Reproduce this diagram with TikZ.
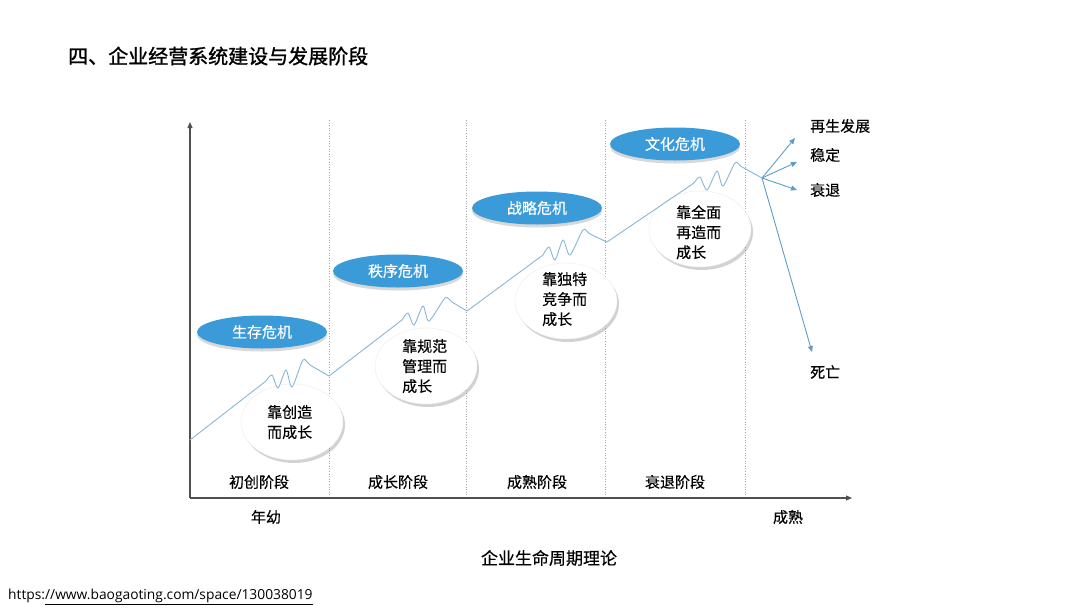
\documentclass[tikz,border=0pt]{standalone}
\usepackage{fontspec}
\setmainfont{Noto Sans CJK SC}[FakeBold=0.3]
\newfontfamily\titlefont{Noto Sans CJK SC}[FakeBold=1.3]
\newfontfamily\urlfont{Open Sans}
\usetikzlibrary{shapes.geometric,shadows,arrows.meta}
\definecolor{crisisblue}{HTML}{3A9BD8}
\definecolor{curveblue}{HTML}{86B8D6}
\definecolor{arrowblue}{HTML}{5E9EC4}
\definecolor{axisgray}{HTML}{505050}
\definecolor{dotgray}{HTML}{A8A8A8}
\begin{document}
\begin{tikzpicture}[x=1pt,y=-1pt,
  crisis/.style={ellipse,fill=crisisblue,minimum width=130pt,minimum height=33pt,inner sep=0pt,
    drop shadow={shadow xshift=0pt,shadow yshift=-3pt,opacity=0.3,fill=gray}},
  growth/.style={ellipse,fill=white,draw=gray!15,minimum width=102pt,minimum height=76pt,inner sep=0pt,
    drop shadow={shadow xshift=2pt,shadow yshift=-3pt,opacity=0.35,fill=gray}},
  crisistext/.style={text=white,font=\fontsize{15}{18}\selectfont},
  growthtext/.style={align=left,font=\fontsize{15}{20}\selectfont,inner sep=0pt},
  label/.style={font=\fontsize{15}{18}\selectfont,inner sep=0pt},
  curve/.style={draw=curveblue,line width=0.9pt,line join=round},
  fork/.style={draw=arrowblue,line width=0.9pt,-{Triangle[width=5pt,length=6pt]}},
  axis/.style={draw=axisgray,line width=1.2pt,-{Triangle[width=5pt,length=6pt]}},
  divider/.style={draw=dotgray,line width=0.6pt,dotted}
]
\useasboundingbox (0,0) rectangle (1080,608);
\fill[white] (0,0) rectangle (1080,608);

% title
\node[anchor=west,inner sep=0pt,font=\titlefont\fontsize{20}{24}\selectfont] (title) at (68,56) {四、企业经营系统建设与发展阶段};

% dividers
\foreach \x/\n in {329/d1,466/d2,605/d3,745/d4}{
  \coordinate (\n top) at (\x,120);
  \coordinate (\n bot) at (\x,498);
  \draw[divider] (\n top) -- (\n bot);
}

% axes
\coordinate (origin) at (190,498);
\coordinate (ytip) at (190,122);
\coordinate (xtip) at (852,498);
\draw[axis] (origin) -- (ytip);
\draw[axis] (origin) -- (xtip);

% growth ellipses (below curve)
\node[growth] (g1) at (292,422) {};
\node[growth] (g2) at (426,366) {};
\node[growth] (g3) at (566,301) {};
\node[growth] (g4) at (700,229) {};

% crisis ellipses
\node[crisis] (c1) at (262,332) {};
\node[crisis] (c2) at (398,271) {};
\node[crisis] (c3) at (537,208) {};
\node[crisis] (c4) at (675,144) {};
\node[crisistext] (c1t) at (c1) {生存危机};
\node[crisistext] (c2t) at (c2) {秩序危机};
\node[crisistext] (c3t) at (c3) {战略危机};
\node[crisistext] (c4t) at (c4) {文化危机};

% curve
\coordinate (b0) at (190,440);
\coordinate (b1) at (329,376);
\coordinate (b2) at (467,311);
\coordinate (b3) at (607,242);
\coordinate (fk) at (762,178);
\coordinate (s1) at (266,381);
\coordinate (s2) at (402,320);
\coordinate (s3) at (543,255);
\coordinate (s4) at (694,183);
\draw[curve] (b0) -- (s1);
\draw[curve] plot[smooth,tension=0.45] coordinates {(s1) (272,375) (278,388) (286,370) (292,387) (303,360) (310,365) (b1)};
\draw[curve] (b1) -- (s2);
\draw[curve] plot[smooth,tension=0.45] coordinates {(s2) (408,313) (414,325) (423,306) (429,321) (445,298) (452,302) (b2)};
\draw[curve] (b2) -- (s3);
\draw[curve] plot[smooth,tension=0.45] coordinates {(s3) (549,247) (555,260) (563,240) (570,255) (583,230) (590,234) (b3)};
\draw[curve] (b3) -- (s4);
\draw[curve] plot[smooth,tension=0.45] coordinates {(s4) (700,177) (707,190) (717,171) (723,186) (735,163) (742,167) (fk)};

% fork
\coordinate (f1) at (795,138);
\coordinate (f2) at (797,162);
\coordinate (f3) at (797,190);
\coordinate (f4) at (812,352);
\draw[fork] (fk) -- (f1);
\draw[fork] (fk) -- (f2);
\draw[fork] (fk) -- (f3);
\draw[fork] (fk) -- (f4);

% outcome labels
\node[label,anchor=west] (o1) at (810,126) {再生发展};
\node[label,anchor=west] (o2) at (810,155) {稳定};
\node[label,anchor=west] (o3) at (810,190) {衰退};
\node[label,anchor=west] (o4) at (810,372) {死亡};

% growth texts
\node[growthtext,anchor=north west] (g1t) at (267,405) {靠创造\\而成长};
\node[growthtext,anchor=north west] (g2t) at (402,339) {靠规范\\管理而\\成长};
\node[growthtext,anchor=north west] (g3t) at (542,272) {靠独特\\竞争而\\成长};
\node[growthtext,anchor=north west] (g4t) at (676,205) {靠全面\\再造而\\成长};

% stage labels
\node[label] (st1) at (259,482) {初创阶段};
\node[label] (st2) at (398,482) {成长阶段};
\node[label] (st3) at (537,482) {成熟阶段};
\node[label] (st4) at (675,482) {衰退阶段};

% axis labels
\node[label] (young) at (266,517) {年幼};
\node[label] (mature) at (788,517) {成熟};
\node[inner sep=0pt,font=\fontsize{17}{20}\selectfont] (caption) at (549,558) {企业生命周期理论};

% url
\node[anchor=west,inner sep=0pt,font=\urlfont\fontsize{13.8}{16}\selectfont] (url) at (8,597) {https:\underline{//www.baogaoting.com/space/130038019}};
\end{tikzpicture}
\end{document}
